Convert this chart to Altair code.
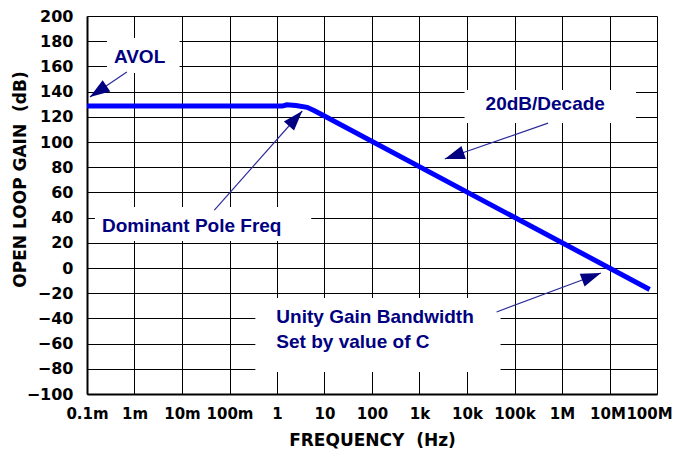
import altair as alt
import pandas as pd

# Main open-loop gain curve
freq = [1e-4, 1.3, 1.6, 2.5, 4.3, 6.0, 8.5, 7.0e7]
gain = [128.5, 128.5, 129.5, 129.0, 127.5, 125.0, 122.0, -17.0]

# Axis ticks
x_ticks = [1e-4, 1e-3, 1e-2, 1e-1, 1, 10, 100, 1e3, 1e4, 1e5, 1e6, 1e7, 1e8]
x_labels = ["0.1m", "1m", "10m", "100m", "1", "10", "100", "1k", "10k",
            "100k", "1M", "10M", "100M"]
y_ticks = list(range(-100, 201, 20))

# Annotation texts (data coordinates)
label_text = ["AVOL", "Dominant Pole Freq", "20dB/Decade",
              "Unity Gain Bandwidth", "Set by value of C"]
label_f = [3.68e-4, 2.07e-4, 2.46e4, 0.97, 0.97]
label_g = [162.7, 28.6, 125.4, -43.7, -63.5]

# White label backgrounds (data coordinates)
box_f1 = [2.63e-4, 1.47e-4, 8.9e3, 0.35]
box_f2 = [8.9e-3, 5.25, 3.6e7, 5.08e4]
box_g1 = [182.5, 48.4, 141.3, -23.8]
box_g2 = [154.8, 21.4, 115.1, -82.5]

# Arrows: start -> tip (data coordinates), arrowhead rotation
arrow_f1 = [6.9e-4, 0.048, 5.1e5, 4.2e4]
arrow_g1 = [155.6, 46.0, 115.0, -34.9]
arrow_f2 = [1.15e-4, 3.4, 3.4e3, 6.6e6]
arrow_g2 = [135.7, 124.6, 86.5, -4.0]
arrow_angle = [236, 41.6, 251, 69.6]

NAVY = "#000080"

curve_df = pd.DataFrame({"f": freq, "g": gain})
text_df = pd.DataFrame({"f": label_f, "g": label_g, "t": label_text})
box_df = pd.DataFrame({"f": box_f1, "f2": box_f2, "g": box_g1, "g2": box_g2})
arrow_df = pd.DataFrame({"f": arrow_f1, "g": arrow_g1, "f2": arrow_f2,
                         "g2": arrow_g2, "a": arrow_angle})

label_expr = "[" + ",".join("'%s'" % l for l in x_labels) + "][round(log(datum.value)/LN10)+4]"

xscale = alt.Scale(type="log", domain=[1e-4, 1e8], nice=False)
yscale = alt.Scale(domain=[-100, 200], nice=False, zero=False)

x_axis = alt.Axis(
    values=x_ticks, labelExpr=label_expr, title="FREQUENCY\u00a0\u00a0(Hz)",
    grid=True, gridColor="#000000", gridWidth=1, gridOpacity=1,
    ticks=False, labelPadding=12, labelFont="DejaVu Sans", labelFontWeight="bold",
    labelFontSize=15, labelColor="#000000", labelOverlap=False, labelFlush=False,
    labelOffset={"condition": [{"test": "datum.value >= 1e8", "value": -8},
                               {"test": "datum.value >= 1e7", "value": -2}],
                 "value": 0},
    titleFont="DejaVu Sans", titleFontWeight="bold", titleFontSize=17,
    titleColor="#000000", titleY=38, titleBaseline="top",
    domainColor="#000000", domainWidth=2,
)
y_axis = alt.Axis(
    values=y_ticks, title="OPEN LOOP GAIN\u00a0\u00a0(dB)",
    grid=True, gridColor="#000000", gridWidth=1, gridOpacity=1,
    ticks=False, labelPadding=14, labelFont="DejaVu Sans", labelFontWeight="bold",
    labelFontSize=16, labelColor="#000000", labelOverlap=False, labelFlush=False,
    titleFont="DejaVu Sans", titleFontWeight="bold", titleFontSize=17,
    titleColor="#000000", titleX=-67, titleY=163, titleAlign="center",
    titleBaseline="middle", titleAngle=270,
    domainColor="#000000", domainWidth=2,
)

base_x = alt.X("f:Q", scale=xscale, axis=x_axis)
base_y = alt.Y("g:Q", scale=yscale, axis=y_axis)

boxes = alt.Chart(box_df).mark_rect(color="white").encode(
    x=base_x, x2="f2:Q", y=base_y, y2="g2:Q")

curve = alt.Chart(curve_df).mark_line(color="#0000FF", strokeWidth=5).encode(
    x=base_x, y=base_y)

arrow_lines = alt.Chart(arrow_df).mark_rule(color="#2a2a9a", strokeWidth=1.2).encode(
    x=base_x, x2="f2:Q", y=base_y, y2="g2:Q")

heads = alt.Chart(arrow_df).mark_point(
    shape="M0,0L0.34,1L-0.34,1Z", filled=True, color=NAVY, opacity=1, size=1600,
    strokeWidth=0).encode(
    x=alt.X("f2:Q", scale=xscale, axis=x_axis),
    y=alt.Y("g2:Q", scale=yscale, axis=y_axis),
    angle=alt.Angle("a:Q", scale=None))

texts = alt.Chart(text_df).mark_text(
    align="left", baseline="alphabetic", color=NAVY, font="Liberation Sans",
    fontWeight="bold", fontSize=19).encode(
    x=base_x, y=base_y, text="t:N")

chart = alt.layer(boxes, curve, arrow_lines, heads, texts).properties(
    width=570, height=378,
    autosize=alt.AutoSizeParams(type="none"),
    padding={"left": 79, "top": 8, "right": 16, "bottom": 55},
    background="white",
).configure_view(stroke=None)

chart.save("out.html", embed_options={"renderer": "svg", "actions": False})
